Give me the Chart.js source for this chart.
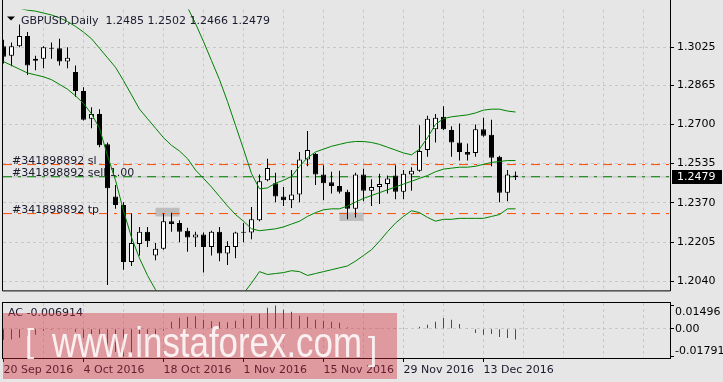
<!DOCTYPE html>
<html>
<head>
  <meta charset="utf-8">
  <title>GBPUSD Daily</title>
  <script src="https://cdn.jsdelivr.net/npm/chart.js"></script>
  <style>
    html, body { margin: 0; padding: 0; background: #e6e6e6; }
    body { width: 723px; height: 382px; position: relative; overflow: hidden; }
    #main { position: absolute; left: 0; top: 0; }
    #ac { position: absolute; left: 0; top: 300px; }
    #wm { position: absolute; left: 3px; top: 313px; width: 394px; height: 66px;
          background: rgba(210, 40, 50, 0.4); overflow: hidden; pointer-events: none; }
    #wm span { position: absolute; color: rgba(255, 255, 255, 0.85); line-height: 1;
               font-family: "Liberation Sans", Arial, sans-serif; white-space: nowrap; transform-origin: 0 0; }
  </style>
</head>
<body>
  <canvas id="main" width="723" height="300"></canvas>
  <canvas id="ac" width="723" height="82"></canvas>
  <div id="wm">
    <span style="left:22px; top:11px; font-size:33px;">[</span>
    <span style="left:49px; top:9px; font-size:42px; transform:scaleX(0.83);">www.instaforex.com</span>
    <span style="left:365px; top:19px; font-size:33px;">]</span>
  </div>

  <script>
    // daily bars, 20 Sep 2016 .. 19 Dec 2016 (index = bar number)
    const opens = [1.3028, 1.2988, 1.3028, 1.3072, 1.2968, 1.2976, 1.3022, 1.3020, 1.2964, 1.2920,
      1.2840, 1.2724, 1.2744, 1.2616, 1.2397, 1.2361, 1.2121, 1.2197, 1.2249, 1.2149,
      1.2177, 1.2293, 1.2285, 1.2253, 1.2225, 1.2237, 1.2185, 1.2249, 1.2157, 1.2185,
      1.2244, 1.2245, 1.2297, 1.2465, 1.2453, 1.2397, 1.2381, 1.2405, 1.2552, 1.2576,
      1.2489, 1.2457, 1.2441, 1.2417, 1.2345, 1.2489, 1.2421, 1.2437, 1.2449, 1.2485,
      1.2417, 1.2489, 1.2505, 1.2592, 1.2680, 1.2732, 1.2676, 1.2624, 1.2584, 1.2580,
      1.2680, 1.2656, 1.2564, 1.2413, 1.2485];
    const highs = [1.3056, 1.3044, 1.3120, 1.3088, 1.2988, 1.3028, 1.3044, 1.3060, 1.3024, 1.2948,
      1.2856, 1.2772, 1.2764, 1.2624, 1.2445, 1.2373, 1.2325, 1.2269, 1.2269, 1.2201,
      1.2325, 1.2329, 1.2297, 1.2265, 1.2249, 1.2245, 1.2253, 1.2269, 1.2209, 1.2249,
      1.2285, 1.2353, 1.2489, 1.2556, 1.2497, 1.2437, 1.2508, 1.2584, 1.2672, 1.2580,
      1.2528, 1.2501, 1.2505, 1.2425, 1.2497, 1.2513, 1.2469, 1.2493, 1.2485, 1.2528,
      1.2508, 1.2520, 1.2696, 1.2736, 1.2744, 1.2776, 1.2692, 1.2704, 1.2620, 1.2700,
      1.2728, 1.2720, 1.2568, 1.2508, 1.2502];
    const lows = [1.2956, 1.2944, 1.3024, 1.2908, 1.2928, 1.2936, 1.2976, 1.2948, 1.2936, 1.2816,
      1.2716, 1.2684, 1.2604, 1.2025, 1.2345, 1.2089, 1.2105, 1.2149, 1.2185, 1.2129,
      1.2173, 1.2249, 1.2205, 1.2165, 1.2185, 1.2077, 1.2149, 1.2125, 1.2109, 1.2137,
      1.2205, 1.2217, 1.2293, 1.2461, 1.2373, 1.2357, 1.2349, 1.2373, 1.2524, 1.2445,
      1.2381, 1.2409, 1.2409, 1.2301, 1.2309, 1.2377, 1.2357, 1.2365, 1.2409, 1.2385,
      1.2385, 1.2421, 1.2501, 1.2564, 1.2624, 1.2676, 1.2564, 1.2548, 1.2548, 1.2564,
      1.2648, 1.2524, 1.2373, 1.2377, 1.2466];
    const closes = [1.2984, 1.3028, 1.3072, 1.2948, 1.2976, 1.3024, 1.3018, 1.2964, 1.2980, 1.2840,
      1.2720, 1.2744, 1.2612, 1.2432, 1.2361, 1.2121, 1.2201, 1.2249, 1.2209, 1.2177,
      1.2293, 1.2281, 1.2249, 1.2225, 1.2237, 1.2185, 1.2249, 1.2157, 1.2189, 1.2245,
      1.2245, 1.2301, 1.2461, 1.2517, 1.2397, 1.2381, 1.2405, 1.2552, 1.2592, 1.2489,
      1.2453, 1.2441, 1.2417, 1.2345, 1.2489, 1.2421, 1.2437, 1.2449, 1.2473, 1.2417,
      1.2493, 1.2505, 1.2588, 1.2724, 1.2728, 1.2680, 1.2624, 1.2584, 1.2572, 1.2680,
      1.2652, 1.2560, 1.2413, 1.2489, 1.2479];

    // Bollinger bands
    const bbUpper = [1.3443, 1.3443, 1.3443, 1.3443, 1.3443, 1.3435, 1.3431, 1.3427, 1.3415, 1.3403,
      1.3387, 1.3375, 1.3355, 1.3391, 1.3415, 1.3431, 1.3423, 1.3391, 1.3383, 1.3363,
      1.3335, 1.3295, 1.3243, 1.3192, 1.3124, 1.3048, 1.2968, 1.2888, 1.2796, 1.2696,
      1.2596, 1.2493, 1.2429, 1.2433, 1.2453, 1.2465, 1.2481, 1.2524, 1.2560, 1.2584,
      1.2596, 1.2608, 1.2616, 1.2624, 1.2628, 1.2628, 1.2624, 1.2616, 1.2604, 1.2592,
      1.2580, 1.2572, 1.2596, 1.2644, 1.2700, 1.2724, 1.2732, 1.2736, 1.2740, 1.2748,
      1.2760, 1.2764, 1.2764, 1.2756, 1.2752];
    const bbMiddle = [1.3204, 1.3196, 1.3188, 1.3180, 1.3176, 1.3168, 1.3160, 1.3148, 1.3132, 1.3112,
      1.3088, 1.3060, 1.3020, 1.2980, 1.2940, 1.2884, 1.2824, 1.2764, 1.2724, 1.2684,
      1.2644, 1.2612, 1.2588, 1.2556, 1.2508, 1.2473, 1.2437, 1.2397, 1.2357, 1.2321,
      1.2293, 1.2261, 1.2253, 1.2257, 1.2261, 1.2269, 1.2281, 1.2293, 1.2313, 1.2329,
      1.2341, 1.2345, 1.2345, 1.2357, 1.2373, 1.2389, 1.2401, 1.2413, 1.2425, 1.2437,
      1.2449, 1.2461, 1.2473, 1.2485, 1.2501, 1.2512, 1.2516, 1.2520, 1.2520, 1.2524,
      1.2532, 1.2540, 1.2544, 1.2548, 1.2548];
    const bbLower = [1.2964, 1.2948, 1.2932, 1.2916, 1.2908, 1.2900, 1.2888, 1.2868, 1.2848, 1.2820,
      1.2788, 1.2744, 1.2684, 1.2568, 1.2465, 1.2337, 1.2225, 1.2137, 1.2065, 1.2005,
      1.1953, 1.1929, 1.1933, 1.1921, 1.1893, 1.1897, 1.1905, 1.1905, 1.1917, 1.1945,
      1.1989, 1.2033, 1.2081, 1.2069, 1.2073, 1.2077, 1.2085, 1.2081, 1.2065, 1.2073,
      1.2081, 1.2089, 1.2097, 1.2105, 1.2125, 1.2149, 1.2173, 1.2209, 1.2249, 1.2285,
      1.2313, 1.2337, 1.2329, 1.2309, 1.2293, 1.2301, 1.2301, 1.2305, 1.2305, 1.2305,
      1.2305, 1.2313, 1.2321, 1.2345, 1.2345];

    // Accelerator oscillator
    const acValues = [-0.0071, -0.0070, -0.0058, -0.0045, -0.0039, -0.0013, -0.0006, -0.0005, -0.0007, -0.0019,
      -0.0060, -0.0065, -0.0085, -0.0140, -0.0150, -0.01791, -0.0162, -0.0140, -0.0085, -0.0052,
      -0.0012, 0.0045, 0.0071, 0.0078, 0.0080, 0.0058, 0.0049, 0.0045, 0.0042, 0.0052,
      0.0065, 0.0084, 0.0097, 0.0136, 0.01496, 0.0123, 0.0110, 0.0084, 0.0078, 0.0058,
      0.0052, 0.0045, 0.0039, 0.0008, 0.0003, 0.0002, 0.0003, 0.0002, 0.0003, 0.0002,
      0.0001, 0.0003, 0.0013, 0.0026, 0.0045, 0.0069, 0.0058, 0.0030, 0.0005, -0.0028,
      -0.0039, -0.0034, -0.0054, -0.0060, -0.006914];

    const dateLabels = ['20 Sep 2016', '4 Oct 2016', '18 Oct 2016', '1 Nov 2016', '15 Nov 2016', '29 Nov 2016', '13 Dec 2016'];
    const priceTicks = [1.3025, 1.2865, 1.2700, 1.2535, 1.2370, 1.2205, 1.2040];
    const acTicks = [0.01496, 0, -0.01791];

    // order levels
    const orderId = '#341898892';
    const slPrice = 1.2531;
    const sellPrice = 1.2480;
    const tpPrice = 1.2325;
    const bidPrice = 1.2479;

    // grey order markers (bar position, price range)
    const markerX = [20.5, 43.5];
    const markerLow = [1.2313, 1.2294];
    const markerHigh = [1.2350, 1.2330];

    // ---- layout constants ----
    const X_MIN = -0.0625;            // 8 px per bar
    const X_MAX = X_MIN + 667 / 8;
    const Y_MIN = 1.200211, Y_MAX = 1.318252;
    const AC_MIN = -0.018957, AC_MAX = 0.016628;
    const gridSteps = [];
    for (let v = 5; v < X_MAX; v += 5) gridSteps.push(v);
    const font11 = '11px "DejaVu Sans"';
    const textColor = '#1a1a2e';
    const gridColor = '#c8c8c8';
    const levelDash = [9, 6, 3, 6];

    Chart.defaults.font.family = '"DejaVu Sans"';
    Chart.defaults.font.size = 11;
    Chart.defaults.color = textColor;

    const idx = opens.map((_, i) => i);
    const title = 'GBPUSD,Daily  ' + [opens, highs, lows, closes].map(a => a[a.length - 1].toFixed(4)).join(' ');
    const levelNotes = [
      [orderId + ' sl', slPrice],
      [orderId + ' sell 1.00', sellPrice],
      [orderId + ' tp', tpPrice]
    ];

    function band(values) {
      return { type: 'line', data: values.map((v, i) => ({ x: i, y: v })), borderColor: '#008000',
               borderWidth: 1, pointRadius: 0, tension: 0, fill: false };
    }
    function level(price, color, dash) {
      return { type: 'line', data: [{ x: X_MIN, y: price }, { x: X_MAX, y: price }], borderColor: color,
               borderWidth: 1, borderDash: dash, pointRadius: 0, fill: false };
    }

    const mainDecor = {
      id: 'mainDecor',
      beforeDatasetsDraw(chart) {
        const { ctx, chartArea: a, scales: { y } } = chart;
        ctx.save();
        ctx.font = font11;
        ctx.fillStyle = textColor;
        ctx.textAlign = 'left';
        ctx.textBaseline = 'alphabetic';
        levelNotes.forEach(([text, price]) => {
          ctx.fillText(text, a.left + 9, Math.round(y.getPixelForValue(price)) - 1);
        });
        ctx.restore();
      },
      afterDraw(chart) {
        const { ctx, chartArea: a, scales: { y } } = chart;
        ctx.save();
        ctx.strokeStyle = '#000';
        ctx.lineWidth = 1;
        ctx.beginPath();
        ctx.moveTo(a.left - 0.5, 0);
        ctx.lineTo(a.left - 0.5, a.bottom + 0.5);
        ctx.lineTo(a.right + 0.5, a.bottom + 0.5);
        ctx.lineTo(a.right + 0.5, 0);
        ctx.stroke();
        // title with the little menu triangle
        ctx.fillStyle = '#000';
        ctx.beginPath();
        ctx.moveTo(a.left + 4, a.top + 7);
        ctx.lineTo(a.left + 12, a.top + 7);
        ctx.lineTo(a.left + 8, a.top + 11);
        ctx.closePath();
        ctx.fill();
        ctx.font = font11;
        ctx.fillStyle = textColor;
        ctx.textBaseline = 'alphabetic';
        ctx.fillText(title, a.left + 18, a.top + 14);
        // current price box
        const py = Math.round(y.getPixelForValue(bidPrice));
        ctx.fillStyle = '#000';
        ctx.fillRect(a.right + 2, py - 7, 50, 14);
        ctx.fillStyle = '#fff';
        ctx.textBaseline = 'middle';
        ctx.fillText(bidPrice.toFixed(4), a.right + 7, py);
        ctx.restore();
      }
    };

    new Chart(document.getElementById('main'), {
      type: 'bar',
      data: {
        datasets: [
          band(bbUpper),
          band(bbMiddle),
          band(bbLower),
          {
            label: 'body',
            data: idx.map(i => ({ x: i, y: [opens[i], closes[i]] })),
            backgroundColor: c => (c.raw && c.raw.y[1] > c.raw.y[0]) ? '#ffffff' : '#000000',
            borderColor: '#000', borderWidth: 1, borderSkipped: false,
            grouped: false, barPercentage: 1, maxBarThickness: 5, inflateAmount: 0, minBarLength: 1
          },
          {
            label: 'wick',
            data: idx.map(i => ({ x: i, y: [lows[i], highs[i]] })),
            backgroundColor: '#000', borderWidth: 0,
            grouped: false, barPercentage: 1, maxBarThickness: 1, inflateAmount: 0
          },
          level(sellPrice, '#008000', levelDash),
          level(slPrice, '#ff4a00', levelDash),
          level(tpPrice, '#ff4a00', levelDash),
          level(bidPrice, '#c0c0c0', []),
          {
            label: 'markers',
            xAxisID: 'xm',
            data: markerX.map((x, i) => ({ x: x, y: [markerLow[i], markerHigh[i]] })),
            backgroundColor: '#bebebe', borderWidth: 0,
            grouped: false, barPercentage: 1, maxBarThickness: 24, inflateAmount: 0
          }
        ]
      },
      options: {
        animation: false,
        responsive: false,
        layout: { padding: { left: 3, top: 3, right: 0, bottom: 1 } },
        plugins: { legend: { display: false }, tooltip: { enabled: false } },
        scales: {
          x: {
            type: 'linear', min: X_MIN, max: X_MAX, offset: false,
            afterFit: s => { s.height = 0; },
            afterBuildTicks: s => { s.ticks = gridSteps.map(v => ({ value: v })); },
            ticks: { display: false },
            grid: { color: gridColor, drawTicks: false, offset: false },
            border: { display: false, dash: [3, 3] }
          },
          xm: {
            type: 'linear', min: X_MIN, max: X_MAX, offset: false, display: false,
            grid: { offset: false }
          },
          y: {
            position: 'right', min: Y_MIN, max: Y_MAX,
            afterFit: s => { s.width = 53; },
            afterBuildTicks: s => { s.ticks = priceTicks.map(v => ({ value: v })); },
            ticks: { padding: 3, color: '#000', callback: v => v.toFixed(4) },
            grid: { color: gridColor, tickColor: '#000', tickLength: 4 },
            border: { display: false, dash: [3, 3] }
          }
        }
      },
      plugins: [mainDecor]
    });

    const acDecor = {
      id: 'acDecor',
      afterDraw(chart) {
        const { ctx, chartArea: a, scales: { y } } = chart;
        ctx.save();
        ctx.strokeStyle = '#000';
        ctx.lineWidth = 1;
        ctx.strokeRect(a.left - 0.5, a.top - 0.5, a.right - a.left + 1, a.bottom - a.top + 1);
        ctx.font = font11;
        ctx.fillStyle = textColor;
        ctx.textAlign = 'left';
        ctx.textBaseline = 'middle';
        ctx.fillText('AC ' + acValues[acValues.length - 1].toFixed(6), a.left + 5, a.top + 10);
        ctx.fillStyle = '#000';
        acTicks.forEach(v => {
          const py = Math.min(Math.max(y.getPixelForValue(v), a.top + 9), a.bottom - 7);
          ctx.fillText(v === 0 ? '0.00' : v.toFixed(5), a.right + 5, Math.round(py));
        });
        ctx.restore();
      }
    };

    const labelled = v => v % 10 === 0 && v / 10 < dateLabels.length;

    new Chart(document.getElementById('ac'), {
      type: 'bar',
      data: {
        datasets: [{
          data: acValues.map((v, i) => ({ x: i, y: v })),
          backgroundColor: acValues.map((v, i) => (i > 0 && v > acValues[i - 1]) ? '#008000' : '#ff0000'),
          borderWidth: 0, grouped: false, barPercentage: 1, maxBarThickness: 1, inflateAmount: 0
        }]
      },
      options: {
        animation: false,
        responsive: false,
        layout: { padding: { left: 3, top: 3, right: 0, bottom: 0 } },
        plugins: { legend: { display: false }, tooltip: { enabled: false } },
        scales: {
          x: {
            type: 'linear', min: X_MIN, max: X_MAX, offset: false,
            afterFit: s => { s.height = 24; },
            afterBuildTicks: s => { s.ticks = [0].concat(gridSteps).map(v => ({ value: v })); },
            ticks: {
              autoSkip: false, maxRotation: 0, minRotation: 0, align: 'start', padding: 2, color: textColor,
              callback: v => labelled(v) ? dateLabels[v / 10] : ''
            },
            grid: {
              offset: false,
              color: c => (c.tick && c.tick.value > 0) ? gridColor : 'rgba(0,0,0,0)',
              tickColor: c => (c.tick && labelled(c.tick.value)) ? '#000' : 'rgba(0,0,0,0)',
              tickLength: 4
            },
            border: { display: false, dash: [3, 3] }
          },
          y: {
            position: 'right', min: AC_MIN, max: AC_MAX,
            afterFit: s => { s.width = 53; },
            afterBuildTicks: s => { s.ticks = acTicks.map(v => ({ value: v })); },
            ticks: { display: false },
            grid: {
              color: c => (c.tick && c.tick.value === 0) ? gridColor : 'rgba(0,0,0,0)',
              tickColor: '#000', tickLength: 4
            },
            border: { display: false, dash: [3, 3] }
          }
        }
      },
      plugins: [acDecor]
    });
  </script>
</body>
</html>
